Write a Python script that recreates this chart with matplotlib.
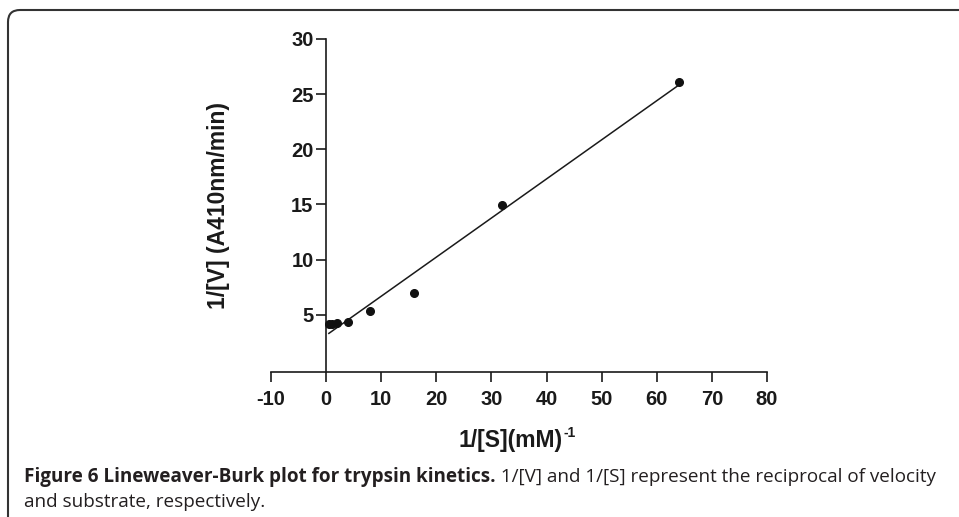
import numpy as np
import matplotlib
matplotlib.use("Agg")
import matplotlib.pyplot as plt
from matplotlib.patches import FancyBboxPatch
from matplotlib.transforms import IdentityTransform

# reciprocal substrate (1/[S]) and reciprocal velocity (1/[V])
inv_s = [0.5, 1, 2, 4, 8, 16, 32, 64]
inv_v = [4.15, 4.15, 4.2, 4.37, 5.3, 7.0, 14.95, 26.1]
x_ticks = [-10, 0, 10, 20, 30, 40, 50, 60, 70, 80]
y_ticks = [5, 10, 15, 20, 25, 30]

cap_bold = "Figure 6 Lineweaver-Burk plot for trypsin kinetics."
cap_rest = " 1/[V] and 1/[S] represent the reciprocal of velocity"
cap_line2 = "and substrate, respectively."

plt.rcParams['font.family'] = ['Liberation Sans', 'DejaVu Sans']

fig = plt.figure(figsize=(9.59, 5.17), dpi=100)
ax = fig.add_axes([271/959, 145/517, 496/959, 333/517])
ink = '#1a1a1a'

# regression line (least squares) over the data range
slope, icpt = np.polyfit(inv_s, inv_v, 1)
xx = np.array([min(inv_s), max(inv_s)])
ax.plot(xx, slope*xx + icpt, color=ink, lw=1.1)
ax.plot(inv_s, inv_v, 'o', color='#111111', ms=5.5, zorder=3)

ax.set_xlim(-10, 80)
ax.set_ylim(-0.2, 30)
ax.spines['left'].set_position(('data', 0))
for s in ['top', 'right']:
    ax.spines[s].set_visible(False)
for s in ['left', 'bottom']:
    ax.spines[s].set_linewidth(1.2)
    ax.spines[s].set_color(ink)

ax.set_xticks(x_ticks)
ax.set_yticks(y_ticks)
ax.set_xticklabels([str(t) for t in x_ticks], fontsize=14.5, fontweight='bold')
ax.set_yticklabels([str(t) for t in y_ticks], fontsize=14.5, fontweight='bold')
ax.tick_params(axis='both', direction='out', length=7, width=1.2, color=ink, labelcolor=ink)
ax.tick_params(axis='x', pad=6)
ax.tick_params(axis='y', pad=2)

ax.set_ylabel('1/[V] (A410nm/min)', fontsize=16.5, fontweight='bold', color=ink)
ax.yaxis.set_label_coords((218-271)/496, 0.5, transform=ax.transAxes)
ax.yaxis.label.set_va('center')

# x label with a small superscript "-1"
rend = fig.canvas.get_renderer()
xl = fig.text(458/959, 1-440/517, '1/[S](mM)', fontsize=16.5, fontweight='bold',
              color=ink, va='center', ha='left')
bbx = xl.get_window_extent(rend)
fig.text(bbx.x1/959 + 1/959, 1-433/517, '-1', fontsize=10, fontweight='bold',
         color=ink, va='center', ha='left')

# rounded frame around the figure panel
frame = FancyBboxPatch((8, -60), 1020, 567, boxstyle='round,pad=0,rounding_size=12',
                       transform=IdentityTransform(), fill=False, ec='#333333', lw=1.5)
fig.patches.append(frame)

# caption, sized so the first line runs to ~x=940
cfam = ['Open Sans', 'DejaVu Sans']
csize = 11.5
t1 = fig.text(24/959, 1-477/517, cap_bold, fontsize=csize, fontweight='bold', family=cfam,
              color='#231f20', va='center', ha='left')
t2 = fig.text(0, 1-477/517, cap_rest, fontsize=csize, family=cfam,
              color='#231f20', va='center', ha='left')
w = t1.get_window_extent(rend).width + t2.get_window_extent(rend).width
csize = csize * 916 / w
t1.set_fontsize(csize)
t2.set_fontsize(csize)
bb = t1.get_window_extent(rend)
t2.set_x(bb.x1/959)
fig.text(24/959, 1-502/517, cap_line2, fontsize=csize, family=cfam,
         color='#231f20', va='center', ha='left')

fig.savefig('out.png', dpi=100)
